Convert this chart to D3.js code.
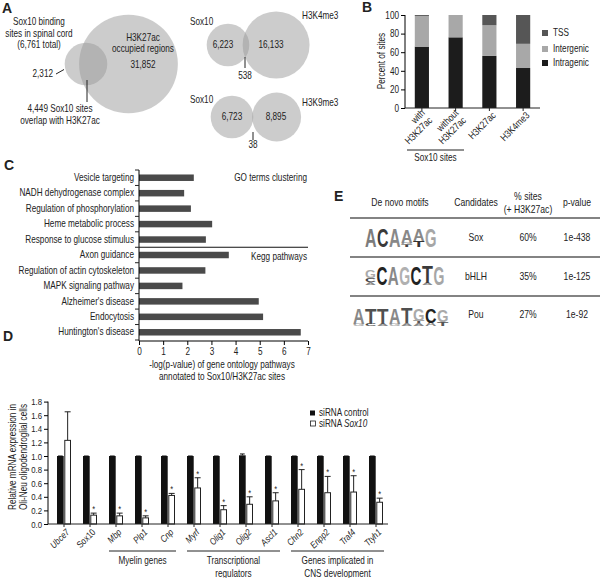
<!DOCTYPE html>
<html><head><meta charset="utf-8">
<script src="https://cdn.jsdelivr.net/npm/d3@7"></script>
<style>
body{margin:0;background:#fff}
text{font-family:'Liberation Sans Narrow','Arial Narrow','Liberation Sans',Arial,sans-serif;fill:#222}
</style>
</head><body><svg id="c" width="600" height="578"></svg>
<script>
// ---------------- Panel A data (Venn diagrams)
const vennSetA = ["Sox10", "Sox10", "Sox10"];
const vennSetB = ["H3K27ac", "H3K4me3", "H3K9me3"];
const vennOnlyA = [2312, 6223, 6723];
const vennOverlap = [4449, 538, 38];
const vennOnlyB = [31852, 16133, 8895];

// ---------------- Panel B data
const bCategories = [["with", "H3K27ac"], ["without", "H3K27ac"], ["H3K27ac"], ["H3K4me3"]];
const bIntragenic = [66, 76, 56, 43];
const bIntergenic = [33, 24, 33, 26];
const bTSS = [1, 0, 11, 31];
const bTicks = [0, 20, 40, 60, 80, 100];
const bSeries = ["Intragenic", "Intergenic", "TSS"];

// ---------------- Panel C data
const cTerms = ["Vesicle targeting", "NADH dehydrogenase complex", "Regulation of phosphorylation",
  "Heme metabolic process", "Response to glucose stimulus", "Axon guidance",
  "Regulation of actin cytoskeleton", "MAPK signaling pathway", "Alzheimer's disease",
  "Endocytosis", "Huntington's disease"];
const cValues = [2.27, 1.87, 2.15, 3.03, 2.77, 3.72, 2.75, 1.80, 4.96, 5.14, 6.70];
const cTicks = [0, 1, 2, 3, 4, 5, 6, 7];

// ---------------- Panel D data
const dGenes = ["Ubce7", "Sox10", "Mbp", "Plp1", "Cnp", "Myrf", "Olig1", "Olig2", "Ascl1", "Chn2", "Enpp2", "Traf4", "Ttyh1"];
const dItalic = [true, false, true, true, true, true, true, true, true, true, true, true, true];
const dControl = [1, 1, 1, 1, 1, 1, 1, 1.01, 1, 1, 1, 1, 1];
const dControlErr = [1, 1, 1, 1, 1, 1, 1, 1.03, 1, 1, 1, 1, 1];
const dSox10 = [1.23, 0.13, 0.12, 0.09, 0.42, 0.53, 0.21, 0.29, 0.34, 0.51, 0.46, 0.47, 0.32];
const dSox10Err = [1.65, 0.16, 0.16, 0.12, 0.45, 0.68, 0.27, 0.40, 0.46, 0.80, 0.70, 0.71, 0.38];
const dSignif = [false, true, true, true, true, true, true, true, true, true, true, true, true];
const dTicks = [0, 0.2, 0.4, 0.6, 0.8, 1.0, 1.2, 1.4, 1.6, 1.8];
const dGroupNames = [["Myelin genes"], ["Transcriptional", "regulators"], ["Genes implicated in", "CNS development"]];
const dGroupFirst = ["Mbp", "Myrf", "Chn2"];
const dGroupLast = ["Cnp", "Ascl1", "Ttyh1"];

// ---------------- Panel E data
const eHeaders = [["De novo motifs"], ["Candidates"], ["% sites", "(+ H3K27ac)"], ["p-value"]];
const eCandidates = ["Sox", "bHLH", "Pou"];
const ePercent = ["60%", "35%", "27%"];
const ePvalue = ["1e-438", "1e-125", "1e-92"];
// each motif: columns, each column bottom-to-top [letter, fraction of height, colour]
const eMotifs = [
  [[["A", 1, "#7c7c7c"]], [["C", 1, "#3a3a3a"]], [["A", 0.95, "#888"]],
   [["T", 0.1, "#444"], ["G", 0.12, "#999"], ["A", 0.72, "#888"]],
   [["T", 0.32, "#333"], ["A", 0.6, "#888"]], [["G", 1, "#a6a6a6"]]],
  [[["A", 0.15, "#888"], ["C", 0.2, "#444"], ["G", 0.4, "#aaa"]], [["C", 1, "#222"]], [["A", 1, "#888"]],
   [["G", 1, "#b0b0b0"]], [["C", 1, "#222"]], [["A", 0.1, "#888"], ["T", 0.9, "#3a3a3a"]], [["G", 1, "#a6a6a6"]]],
  [[["G", 0.12, "#aaa"], ["A", 0.82, "#888"]], [["C", 0.12, "#444"], ["T", 0.85, "#505050"]],
   [["A", 0.12, "#888"], ["T", 0.85, "#505050"]], [["G", 0.12, "#aaa"], ["A", 0.82, "#888"]],
   [["A", 0.14, "#888"], ["T", 0.82, "#505050"]], [["A", 0.14, "#888"], ["T", 0.12, "#555"], ["G", 0.62, "#aaa"]],
   [["A", 0.18, "#888"], ["C", 0.78, "#222"]], [["T", 0.2, "#555"], ["G", 0.62, "#aaa"]]]
];

// =====================================================================
const svg = d3.select("#c");
svg.append("rect").attr("width", 600).attr("height", 578).attr("fill", "#fff");

function label(g, x, y, s, size, anchor, extra) {
  const t = g.append("text").attr("x", x).attr("y", y).attr("font-size", size)
    .attr("text-anchor", anchor || "middle").text(s);
  if (extra) extra(t);
  return t;
}
function panelLetter(x, y, s) {
  svg.append("text").attr("class", "nc").attr("x", x).attr("y", y).attr("font-size", 14).attr("font-weight", "bold")
    .style("font-family", "'Liberation Sans',Arial,sans-serif").text(s);
}

// ---------------- Panel A
panelLetter(2, 13, "A");
const gA = svg.append("g");
const rScale = d3.scaleSqrt().domain([0, 6761]).range([0, 21.3]);
function lensArea(r1, r2, d) {
  if (d >= r1 + r2) return 0;
  if (d <= Math.abs(r1 - r2)) return Math.PI * Math.min(r1, r2) ** 2;
  const a = r1 * r1 * Math.acos((d * d + r1 * r1 - r2 * r2) / (2 * d * r1));
  const b = r2 * r2 * Math.acos((d * d + r2 * r2 - r1 * r1) / (2 * d * r2));
  const c = 0.5 * Math.sqrt((-d + r1 + r2) * (d + r1 - r2) * (d - r1 + r2) * (d + r1 + r2));
  return a + b - c;
}
const vennAnchors = [[86, 64], [228, 45], [232, 117]];
const vennGeom = vennOnlyA.map((a, i) => {
  const r1 = rScale(a + vennOverlap[i]), r2 = rScale(vennOnlyB[i] + vennOverlap[i]);
  const target = Math.PI * rScale(vennOverlap[i]) ** 2;
  let lo = Math.abs(r1 - r2), hi = r1 + r2;
  for (let k = 0; k < 60; k++) { const m = (lo + hi) / 2; if (lensArea(r1, r2, m) > target) lo = m; else hi = m; }
  const d = (lo + hi) / 2;
  return { cx1: vennAnchors[i][0], cy: vennAnchors[i][1], r1, r2, cx2: vennAnchors[i][0] + d };
});
vennGeom.forEach(v => {
  gA.append("circle").attr("cx", v.cx1).attr("cy", v.cy).attr("r", v.r1).attr("fill", "#9a9a9a").attr("fill-opacity", 0.5);
  gA.append("circle").attr("cx", v.cx2).attr("cy", v.cy).attr("r", v.r2).attr("fill", "#9a9a9a").attr("fill-opacity", 0.5);
});
const fmt = d3.format(",");
["Sox10 binding", "sites in spinal cord", "(" + fmt(vennOnlyA[0] + vennOverlap[0]) + " total)"].forEach((s, i) => label(gA, 39, 25.5 + i * 11.5, s, 10));
label(gA, 53, 77, fmt(vennOnlyA[0]), 10, "end");
gA.append("line").attr("x1", 56).attr("y1", 74).attr("x2", 64).attr("y2", 69.5).attr("stroke", "#222");
[vennSetB[0], "occupied regions"].forEach((s, i) => label(gA, 143, 41.5 + i * 10.5, s, 10));
label(gA, 143, 68.5, fmt(vennOnlyB[0]), 10);
gA.append("line").attr("x1", 87).attr("y1", 80).attr("x2", 87).attr("y2", 102).attr("stroke", "#222");
label(gA, 60, 112, fmt(vennOverlap[0]) + " Sox10 sites", 10);
label(gA, 60, 124, "overlap with " + vennSetB[0], 10);
label(gA, 190, 25.5, vennSetA[1], 10, "start");
label(gA, 302, 19.5, vennSetB[1], 10, "start");
label(gA, 223, 48.5, fmt(vennOnlyA[1]), 10);
label(gA, 271, 48.5, fmt(vennOnlyB[1]), 10);
gA.append("line").attr("x1", 245).attr("y1", 57).attr("x2", 245).attr("y2", 68).attr("stroke", "#222");
label(gA, 245, 79.5, fmt(vennOverlap[1]), 10);
label(gA, 190, 103.5, vennSetA[2], 10, "start");
label(gA, 302, 106.5, vennSetB[2], 10, "start");
label(gA, 232, 120.5, fmt(vennOnlyA[2]), 10);
label(gA, 276, 120.5, fmt(vennOnlyB[2]), 10);
gA.append("line").attr("x1", 253).attr("y1", 132).attr("x2", 253).attr("y2", 140).attr("stroke", "#222");
label(gA, 253, 148.5, fmt(vennOverlap[2]), 10);

// ---------------- Panel B
panelLetter(362, 12, "B");
const gB = svg.append("g");
const xB = d3.scaleBand().domain(d3.range(bCategories.length)).range([405, 540]).paddingInner(0.58).paddingOuter(0.29);
const yB = d3.scaleLinear().domain([0, 100]).range([108, 15]);
const bRows = bCategories.map((c, i) => ({ i, Intragenic: bIntragenic[i], Intergenic: bIntergenic[i], TSS: bTSS[i] }));
const stackB = d3.stack().keys(bSeries)(bRows);
const bColor = d3.scaleOrdinal().domain(bSeries).range(["#1c1c1c", "#a8a8a8", "#565656"]);
stackB.forEach(layer => {
  gB.selectAll(null).data(layer).enter().append("rect")
    .attr("x", d => xB(d.data.i)).attr("width", xB.bandwidth())
    .attr("y", d => yB(d[1])).attr("height", d => yB(d[0]) - yB(d[1]))
    .attr("fill", bColor(layer.key));
});
const axB = gB.append("g").attr("transform", "translate(405,0)")
  .call(d3.axisLeft(yB).tickValues(bTicks).tickSize(4).tickPadding(2));
axB.select(".domain").attr("d", "M0,15V108");
axB.selectAll("text").attr("font-size", 10).style("font-family", null);
gB.append("line").attr("x1", 405).attr("x2", 540).attr("y1", 108).attr("y2", 108).attr("stroke", "#222");
bCategories.forEach((lines, i) => {
  const cx = xB(i) + xB.bandwidth() / 2;
  gB.append("line").attr("x1", cx).attr("x2", cx).attr("y1", 108).attr("y2", 111).attr("stroke", "#222");
  const two = lines.length > 1;
  const t = gB.append("text").attr("transform", `translate(${cx + (two ? 11 : 7)},${two ? 121 : 116}) rotate(-45)`).attr("text-anchor", "end").attr("font-size", 10);
  lines.forEach((s, k) => t.append("tspan").attr("x", 0).attr("y", (k - (lines.length - 1)) * 10.5).text(s));
});
gB.append("text").attr("transform", "translate(385,61) rotate(-90)").attr("text-anchor", "middle").attr("font-size", 10).text("Percent of sites");
gB.append("line").attr("x1", 407).attr("x2", 464).attr("y1", 150).attr("y2", 150).attr("stroke", "#222");
label(gB, 435.5, 161.5, "Sox10 sites", 10);
const legB = ["TSS", "Intergenic", "Intragenic"];
legB.forEach((s, i) => {
  const y = [33, 49, 63][i];
  gB.append("rect").attr("x", 542).attr("y", y - 3).attr("width", 6).attr("height", 6).attr("fill", bColor(s));
  label(gB, 553, y + 3.5, s, 10, "start");
});

// ---------------- Panel C
panelLetter(4, 170, "C");
const gC = svg.append("g");
const yC = d3.scaleBand().domain(cTerms).range([170, 340]).paddingInner(0.58).paddingOuter(0.29);
const xC = d3.scaleLinear().domain([0, 7]).range([139, 308]);
gC.selectAll(null).data(cTerms).enter().append("rect")
  .attr("x", xC(0)).attr("y", d => yC(d)).attr("height", yC.bandwidth())
  .attr("width", (d, i) => xC(cValues[i]) - xC(0)).attr("fill", "#4a4a4a");
const axCY = gC.append("g").attr("transform", `translate(${xC(0)},0)`)
  .call(d3.axisLeft(yC).tickSize(0).tickPadding(5));
axCY.select(".domain").attr("d", "M0,170V341");
axCY.selectAll("text").attr("font-size", 10).style("font-family", null);
const stepC = yC.step();
d3.range(cTerms.length + 1).forEach(k => {
  const y = 170 + k * stepC;
  gC.append("line").attr("x1", xC(0) - 4).attr("x2", xC(0)).attr("y1", y).attr("y2", y).attr("stroke", "#222");
});
const axCX = gC.append("g").attr("transform", "translate(0,341)")
  .call(d3.axisBottom(xC).tickValues(cTicks).tickFormat(d3.format("d")).tickSize(4).tickPadding(3));
axCX.select(".domain").attr("d", `M${xC(0)},0H${xC(7)}`);
axCX.selectAll("text").attr("font-size", 10).style("font-family", null);
const sepY = (yC(cTerms[4]) + yC.bandwidth() + yC(cTerms[5])) / 2;
gC.append("line").attr("x1", xC(0)).attr("x2", xC(7)).attr("y1", sepY).attr("y2", sepY).attr("stroke", "#111").attr("stroke-width", 1.2);
label(gC, 307, 181.5, "GO terms clustering", 10, "end");
label(gC, 307, 260.5, "Kegg pathways", 10, "end");
label(gC, 222, 368.5, "-log(p-value) of gene ontology pathways", 10);
label(gC, 222, 380.5, "annotated to Sox10/H3K27ac sites", 10);

// ---------------- Panel D
panelLetter(3, 341, "D");
const gD = svg.append("g");
const xD = d3.scaleBand().domain(dGenes).range([51, 389]);
const xInner = d3.scaleBand().domain(["control", "sox10"]).range([-7, 7]).paddingInner(0.08);
const yD = d3.scaleLinear().domain([0, 1.8]).range([524, 401.6]);
const centerD = g => xD(g) + xD.bandwidth() / 2;
gD.selectAll(null).data(dGenes).enter().append("rect")
  .attr("x", g => centerD(g) + xInner("control")).attr("width", xInner.bandwidth())
  .attr("y", (g, i) => yD(dControl[i])).attr("height", (g, i) => yD(0) - yD(dControl[i]))
  .attr("fill", "#111");
gD.selectAll(null).data(dGenes).enter().append("line")
  .attr("x1", g => centerD(g) + xInner("control") + xInner.bandwidth() / 2)
  .attr("x2", g => centerD(g) + xInner("control") + xInner.bandwidth() / 2)
  .attr("y1", (g, i) => yD(dControl[i])).attr("y2", (g, i) => yD(dControlErr[i])).attr("stroke", "#111");
gD.selectAll(null).data(dGenes).enter().append("line")
  .attr("x1", g => centerD(g) + xInner("control") + 1).attr("x2", g => centerD(g) + xInner("control") + xInner.bandwidth() - 1)
  .attr("y1", (g, i) => yD(dControlErr[i])).attr("y2", (g, i) => yD(dControlErr[i])).attr("stroke", "#111");
const sx = g => centerD(g) + xInner("sox10") + xInner.bandwidth() / 2;
gD.selectAll(null).data(dGenes).enter().append("line")
  .attr("x1", sx).attr("x2", sx)
  .attr("y1", (g, i) => yD(dSox10[i])).attr("y2", (g, i) => yD(dSox10Err[i])).attr("stroke", "#222");
gD.selectAll(null).data(dGenes).enter().append("line")
  .attr("x1", g => sx(g) - 3).attr("x2", g => sx(g) + 3)
  .attr("y1", (g, i) => yD(dSox10Err[i])).attr("y2", (g, i) => yD(dSox10Err[i])).attr("stroke", "#222");
gD.selectAll(null).data(dGenes).enter().append("rect")
  .attr("x", g => centerD(g) + xInner("sox10") + 0.5).attr("width", xInner.bandwidth() - 1)
  .attr("y", (g, i) => yD(dSox10[i])).attr("height", (g, i) => yD(0) - yD(dSox10[i]))
  .attr("fill", "#fff").attr("stroke", "#222").attr("stroke-width", 1);
gD.selectAll(null).data(dGenes.filter((g, i) => dSignif[i])).enter().append("text")
  .attr("x", sx).attr("y", g => yD(dSox10Err[dGenes.indexOf(g)]) - 1)
  .attr("text-anchor", "middle").attr("font-size", 9).text("*");
const axDY = gD.append("g").attr("transform", "translate(48,0)")
  .call(d3.axisLeft(yD).tickValues(dTicks).tickFormat(d3.format(".1f")).tickSize(4).tickPadding(2));
axDY.select(".domain").attr("d", `M0,${yD(1.8)}V${yD(0)}`);
axDY.selectAll("text").attr("font-size", 9.5).style("font-family", null);
gD.append("line").attr("x1", 48).attr("x2", 388).attr("y1", yD(0)).attr("y2", yD(0)).attr("stroke", "#222");
dGenes.forEach((g, i) => {
  const cx = centerD(g);
  gD.append("line").attr("x1", cx).attr("x2", cx).attr("y1", yD(0)).attr("y2", yD(0) + 3).attr("stroke", "#222");
  gD.append("text").attr("transform", `translate(${cx + 6},${533}) rotate(-45)`).attr("text-anchor", "end")
    .attr("font-size", 9.5).attr("font-style", dItalic[i] ? "italic" : "normal").text(g);
});
gD.append("text").attr("transform", "translate(15.5,457) rotate(-90)").attr("text-anchor", "middle").attr("font-size", 10).text("Relative mRNA expression in");
gD.append("text").attr("transform", "translate(26.5,457) rotate(-90)").attr("text-anchor", "middle").attr("font-size", 10).text("Oli-Neu oligodendroglial cells");
dGroupNames.forEach((lines, k) => {
  const x1 = centerD(dGroupFirst[k]) - 7, x2 = centerD(dGroupLast[k]) + 8;
  gD.append("line").attr("x1", x1).attr("x2", x2).attr("y1", 551).attr("y2", 551).attr("stroke", "#222");
  lines.forEach((s, j) => label(gD, (x1 + x2) / 2, 564.5 + j * 12.5, s, 10));
});
gD.append("rect").attr("x", 310).attr("y", 410.5).attr("width", 5).attr("height", 5).attr("fill", "#111");
label(gD, 319, 416.5, "siRNA control", 10, "start");
gD.append("rect").attr("x", 310.5).attr("y", 421).attr("width", 5).attr("height", 5).attr("fill", "#fff").attr("stroke", "#222").attr("stroke-width", 0.8);
const lt = label(gD, 319, 427, "siRNA ", 10, "start");
lt.append("tspan").attr("font-style", "italic").text("Sox10");

// ---------------- Panel E
panelLetter(334, 201, "E");
const gE = svg.append("g");
const colX = [400, 476, 528, 577];
eHeaders.forEach((lines, c) => {
  lines.forEach((s, j) => label(gE, colX[c], (lines.length === 1 ? 206.5 : 200.5 + j * 13), s, 10.5));
});
const rowLineY = [218, 257, 296];
rowLineY.forEach(y => gE.append("line").attr("x1", 350).attr("x2", 600).attr("y1", y).attr("y2", y).attr("stroke", "#5a5a5a").attr("stroke-width", 1.3));
const rowCenter = [238, 277, 315];
eCandidates.forEach((s, r) => {
  label(gE, colX[1], rowCenter[r] + 3.5, s, 10.5);
  label(gE, colX[2], rowCenter[r] + 3.5, ePercent[r], 10.5);
  label(gE, colX[3], rowCenter[r] + 3.5, ePvalue[r], 10.5);
});
const motifX0 = [365, 365, 353], motifW = [12, 11.4, 12], motifBase = [247, 285, 326], motifH = 19;
eMotifs.forEach((cols, r) => {
  cols.forEach((stackCol, c) => {
    let base = motifBase[r];
    stackCol.forEach(([ch, f, col]) => {
      const h = f * motifH;
      gE.append("text").attr("class", "nc").attr("x", motifX0[r] + c * motifW[r]).attr("y", base)
        .attr("font-size", h / 0.716).attr("font-weight", "bold")
        .style("font-family", "'Liberation Sans',Arial,sans-serif").style("fill", col)
        .attr("textLength", motifW[r] - 0.5).attr("lengthAdjust", "spacingAndGlyphs").text(ch);
      base -= h;
    });
  });
});

// ---------------- condense regular text horizontally (Arial Narrow look)
const K = 0.82;
svg.selectAll("text:not(.nc)").each(function () {
  const t = d3.select(this);
  const x = parseFloat(t.attr("x")) || 0, y = parseFloat(t.attr("y")) || 0;
  const tr = t.attr("transform") || "";
  t.attr("transform", `${tr} translate(${x},${y}) scale(${K},1) translate(${-x},${-y})`);
});
</script></body></html>
